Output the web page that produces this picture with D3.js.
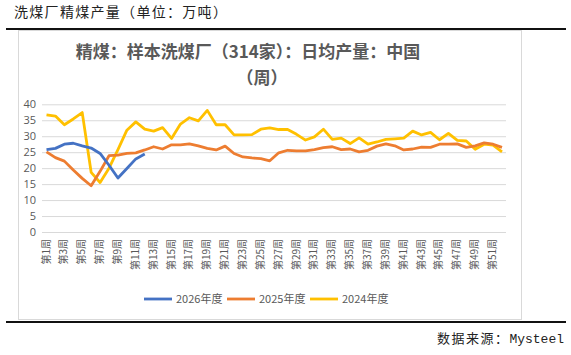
<!DOCTYPE html>
<html><head><meta charset="utf-8">
<script src="https://cdn.jsdelivr.net/npm/d3@7"></script>
<style>body{margin:0;background:#fff;} svg{display:block;}</style>
</head><body>
<svg id="c" width="571" height="355"></svg>
<script>
const weeks = d3.range(1, 53).map(i => "第" + i + "周");
const seriesNames = ["2026年度", "2025年度", "2024年度"];
const seriesColors = ["#4472C4", "#ED7D31", "#FFC000"];
const yTicks = [0, 5, 10, 15, 20, 25, 30, 35, 40];
const v2026 = [25.8, 26.2, 27.5, 27.8, 27.0, 26.3, 24.6, 20.9, 16.9, 19.9, 22.9, 24.4];
const v2025 = [25.1, 23.3, 22.2, 19.4, 16.8, 14.5, 19.0, 23.9, 24.1, 24.6, 24.8, 25.7, 26.7, 26.0, 27.3, 27.3, 27.6, 27.0, 26.2, 25.7, 26.9, 24.6, 23.5, 23.2, 23.0, 22.3, 24.8, 25.6, 25.4, 25.4, 25.8, 26.4, 26.7, 25.8, 26.0, 25.1, 25.6, 26.9, 27.6, 27.0, 25.7, 26.0, 26.6, 26.5, 27.5, 27.5, 27.6, 26.5, 27.0, 27.9, 27.5, 26.5];
const v2024 = [36.7, 36.3, 33.6, 35.4, 37.4, 18.7, 15.5, 20.0, 25.8, 31.9, 34.5, 32.2, 31.6, 32.7, 29.3, 33.8, 35.8, 34.8, 38.1, 33.6, 33.6, 30.4, 30.4, 30.5, 32.2, 32.6, 32.1, 32.1, 30.6, 28.8, 29.8, 32.2, 29.0, 29.4, 27.7, 29.5, 27.5, 28.2, 29.0, 29.2, 29.4, 31.6, 30.4, 31.2, 28.9, 30.9, 28.7, 28.5, 25.9, 27.5, 27.2, 25.1];
const seriesValues = [v2026, v2025, v2024];
const xLabels = weeks.filter((w, i) => i % 2 === 0);

const svg = d3.select("#c");
const txt = "#595959";
const cjk = "'Noto Sans CJK SC', 'Noto Sans', sans-serif";

// page header
svg.append("text").attr("x", 14).attr("y", 17)
  .attr("font-family", cjk).attr("font-size", 14).attr("letter-spacing", 1.3)
  .attr("fill", "#222").text("洗煤厂精煤产量（单位：万吨）");
svg.append("line").attr("x1", 6).attr("x2", 566).attr("y1", 29).attr("y2", 29)
  .attr("stroke", "#111").attr("stroke-width", 2);

// chart frame
svg.append("rect").attr("x", 18.5).attr("y", 30.5).attr("width", 503).attr("height", 289)
  .attr("fill", "#fff").attr("stroke", "#d9d9d9").attr("stroke-width", 1);

// bottom rule + source
svg.append("line").attr("x1", 6).attr("x2", 566).attr("y1", 322).attr("y2", 322)
  .attr("stroke", "#111").attr("stroke-width", 2);
const src = svg.append("text").attr("x", 564).attr("y", 343).attr("text-anchor", "end")
  .attr("font-size", 13).attr("fill", "#222");
src.append("tspan").attr("font-family", cjk).attr("letter-spacing", 1.5).text("数据来源：");
src.append("tspan").attr("font-family", "'Liberation Mono', monospace").text("Mysteel");

// title
svg.append("text").attr("x", 248).attr("y", 58).attr("text-anchor", "middle")
  .attr("font-family", cjk).attr("font-size", 17).attr("font-weight", "bold").attr("fill", txt)
  .text("精煤：样本洗煤厂（314家）：日均产量：中国");
svg.append("text").attr("x", 262).attr("y", 84).attr("text-anchor", "middle")
  .attr("font-family", cjk).attr("font-size", 17).attr("font-weight", "bold").attr("fill", txt)
  .text("（周）");

// scales
const x = d3.scalePoint().domain(weeks).range([46.5, 502]);
const y = d3.scaleLinear().domain([0, 40]).range([232, 104.3]);

// y axis with gridlines
const gy = svg.append("g").attr("transform", "translate(42,0)")
  .call(d3.axisLeft(y).tickValues(yTicks).tickSize(-464).tickPadding(6));
gy.select(".domain").remove();
gy.selectAll(".tick line").attr("stroke", "#d9d9d9").attr("stroke-width", 1);
gy.selectAll(".tick text").attr("fill", txt).attr("font-size", 11)
  .attr("font-family", "'Open Sans', 'Noto Sans', sans-serif");

// x axis
const gx = svg.append("g").attr("transform", "translate(0,232)")
  .call(d3.axisBottom(x).tickValues(xLabels).tickSize(0).tickPadding(0));
gx.select(".domain").remove();
gx.selectAll(".tick text")
  .attr("font-family", cjk).attr("font-size", 10).attr("fill", txt)
  .attr("text-anchor", "end").attr("transform", "translate(-1,7) rotate(-90)")
  .attr("dy", "0.35em").attr("x", 0).attr("y", 0);

// lines
const line = d3.line().x((d, i) => x(weeks[i])).y(d => y(d));
[2, 1, 0].forEach(k => {
  svg.append("path").datum(seriesValues[k]).attr("d", line)
    .attr("fill", "none").attr("stroke", seriesColors[k]).attr("stroke-width", 2.8)
    .attr("stroke-linejoin", "round");
});

// legend
const legX = [144, 227, 310];
seriesNames.forEach((n, k) => {
  const g = svg.append("g").attr("transform", `translate(${legX[k]},299)`);
  g.append("line").attr("x1", 0).attr("x2", 28).attr("stroke", seriesColors[k]).attr("stroke-width", 2.8);
  g.append("text").attr("x", 32).attr("y", 4).attr("font-family", cjk).attr("font-size", 11)
    .attr("fill", txt).text(n);
});
</script>
</body></html>
